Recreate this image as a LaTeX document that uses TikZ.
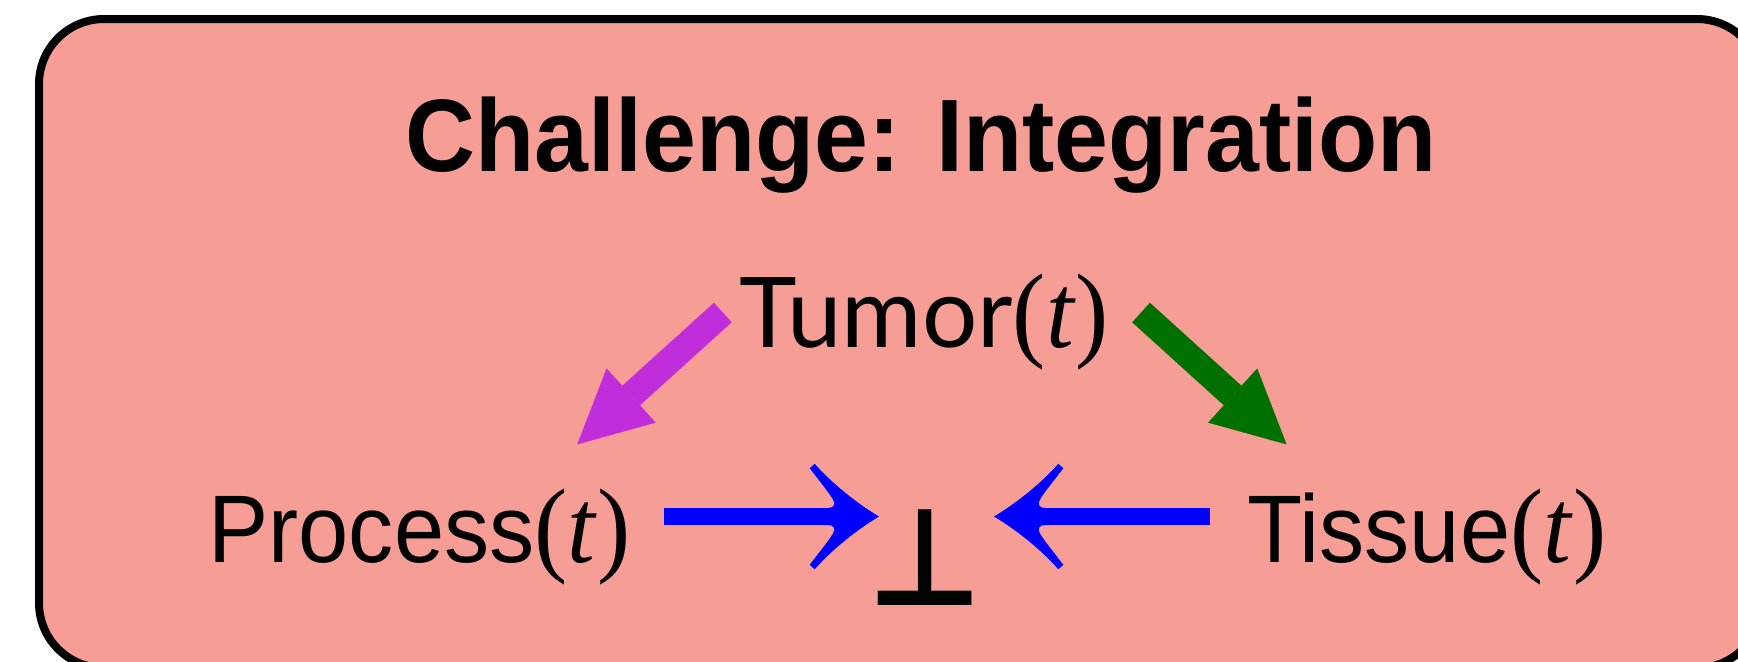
\documentclass[tikz,border=0pt]{standalone}
\usepackage{fontspec}
\usetikzlibrary{arrows.meta}
\newfontfamily\helv[FakeStretch=0.94]{Liberation Sans}
\newfontfamily\serfam[FakeStretch=0.94]{Liberation Serif}
\newfontfamily\latofam{Lato}
\newfontfamily\dejavu{DejaVu Sans}
\definecolor{boxfill}{HTML}{F69D96}
\definecolor{magentaarrow}{RGB}{192,46,220}
\definecolor{greenarrow}{RGB}{0,112,0}
\newcommand\targ{{\fontsize{53}{60}\selectfont\serfam(\textit{t})}}
\pgfdeclarearrow{
  name = BlueHead,
  setup code = {
    \pgfarrowssettipend{0pt}
    \pgfarrowssetbackend{-35pt}
    \pgfarrowssetlineend{-20pt}
  },
  drawing code = {
    \pgfpathmoveto{\pgfqpoint{0pt}{0pt}}
    \pgfpathcurveto{\pgfqpoint{-11pt}{6.5pt}}{\pgfqpoint{-24pt}{17pt}}{\pgfqpoint{-32.15pt}{26.35pt}}
    \pgfpathlineto{\pgfqpoint{-34.65pt}{24.15pt}}
    \pgfpathcurveto{\pgfqpoint{-30pt}{18pt}}{\pgfqpoint{-25pt}{12pt}}{\pgfqpoint{-23pt}{8.5pt}}
    \pgfpathcurveto{\pgfqpoint{-21.5pt}{6.25pt}}{\pgfqpoint{-22.5pt}{4.25pt}}{\pgfqpoint{-25.5pt}{4.25pt}}
    \pgfpathlineto{\pgfqpoint{-28pt}{4.25pt}}
    \pgfpathlineto{\pgfqpoint{-28pt}{-4.25pt}}
    \pgfpathlineto{\pgfqpoint{-25.5pt}{-4.25pt}}
    \pgfpathcurveto{\pgfqpoint{-22.5pt}{-4.25pt}}{\pgfqpoint{-21.5pt}{-6.25pt}}{\pgfqpoint{-23pt}{-8.5pt}}
    \pgfpathcurveto{\pgfqpoint{-25pt}{-12pt}}{\pgfqpoint{-30pt}{-18pt}}{\pgfqpoint{-34.65pt}{-24.15pt}}
    \pgfpathlineto{\pgfqpoint{-32.15pt}{-26.35pt}}
    \pgfpathcurveto{\pgfqpoint{-24pt}{-17pt}}{\pgfqpoint{-11pt}{-6.5pt}}{\pgfqpoint{0pt}{0pt}}
    \pgfpathclose
    \pgfusepathqfill
  }
}
\begin{document}
\begin{tikzpicture}[x=0.5pt,y=-0.5pt,
  lbl/.style={inner sep=0pt, anchor=base, text=black},
  fatarrow/.style={line width=13.2pt, -{Triangle[length=36.3pt,width=36.5pt,line width=0.01pt]}},
  bluearrow/.style={draw=blue, fill=blue, line width=8.5pt, -BlueHead}]
\useasboundingbox (0,0) rectangle (1738,661);
\draw[line width=4pt, fill=boxfill, rounded corners=32.5pt] (39,19) rectangle (1762,668);

\node[lbl] (title) at (921,171) {\helv\bfseries\fontsize{51.5}{60}\selectfont Challenge: Integration};
\node[lbl] (tumor) at (924.5,347) {\latofam\fontsize{48.8}{55}\selectfont Tumor\targ};
\node[lbl] (process) at (419.5,562) {\helv\fontsize{48}{55}\selectfont Process\targ};
\node[lbl] (tissue) at (1427,562) {\helv\fontsize{48}{55}\selectfont Tissue\targ};
\node[lbl] (bot) at (925,605) {\scalebox{0.9}[0.97]{\dejavu\bfseries\fontsize{70}{80}\selectfont ⊥}};

\coordinate (magtail) at (722.8,312.5);
\coordinate (magtip) at (577.3,444.3);
\coordinate (grntail) at (1141,312.5);
\coordinate (grntip) at (1286.5,444.3);
\coordinate (procout) at (664,516.5);
\coordinate (botleft) at (879,516.5);
\coordinate (tisout) at (1210,516.5);
\coordinate (botright) at (994,516.5);

\draw[fatarrow, draw=magentaarrow, fill=magentaarrow] (magtail) -- (magtip);
\draw[fatarrow, draw=greenarrow, fill=greenarrow] (grntail) -- (grntip);
\draw[bluearrow] (procout) -- (botleft);
\draw[bluearrow] (tisout) -- (botright);
\end{tikzpicture}
\end{document}
